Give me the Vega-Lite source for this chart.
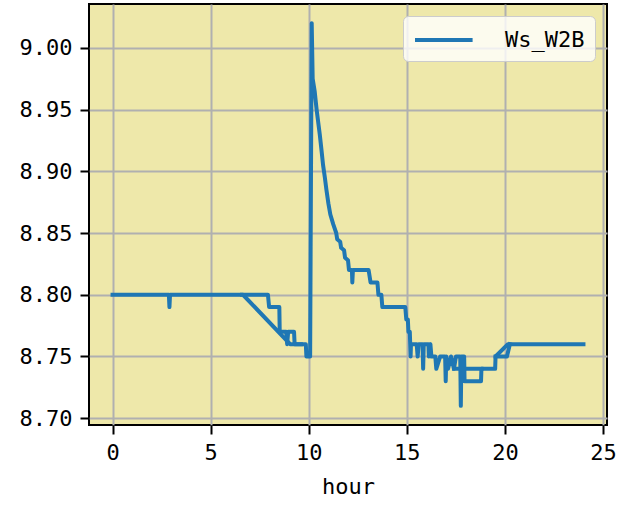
{
  "$schema": "https://vega.github.io/schema/vega-lite/v6.json",
  "width": 518,
  "height": 421,
  "autosize": {"type": "none"},
  "padding": {"left": 89, "top": 4, "right": 13, "bottom": 84},
  "background": "white",
  "config": {
    "view": {"stroke": "black", "strokeWidth": 2, "fill": "#eee8aa"},
    "font": "DejaVu Sans Mono",
    "axis": {
      "labelFont": "DejaVu Sans Mono",
      "labelFontSize": 22,
      "labelColor": "black",
      "titleFont": "DejaVu Sans Mono",
      "titleFontSize": 22,
      "titleFontWeight": "normal",
      "titleColor": "black",
      "tickColor": "black",
      "tickWidth": 2,
      "tickSize": 9,
      "labelPadding": 8,
      "domain": false,
      "grid": true,
      "gridColor": "#b0b0b0",
      "gridWidth": 2
    },
    "legend": {
      "labelFont": "DejaVu Sans Mono",
      "labelFontSize": 22,
      "labelColor": "black",
      "fillColor": "rgba(255,255,255,0.8)",
      "strokeColor": "#cccccc",
      "cornerRadius": 5,
      "padding": 10
    }
  },
  "data": {
    "values": [
      {"seg": "A", "i": 1, "h": 0, "v": 8.80, "series": "Ws_W2B"},
      {"seg": "A", "i": 2, "h": 2.87, "v": 8.80, "series": "Ws_W2B"},
      {"seg": "A", "i": 3, "h": 2.9, "v": 8.79, "series": "Ws_W2B"},
      {"seg": "A", "i": 4, "h": 2.93, "v": 8.80, "series": "Ws_W2B"},
      {"seg": "A", "i": 5, "h": 6.65, "v": 8.80, "series": "Ws_W2B"},
      {"seg": "A", "i": 6, "h": 9.05, "v": 8.76, "series": "Ws_W2B"},
      {"seg": "A", "i": 7, "h": 9.85, "v": 8.76, "series": "Ws_W2B"},
      {"seg": "A", "i": 8, "h": 9.88, "v": 8.75, "series": "Ws_W2B"},
      {"seg": "A", "i": 9, "h": 10.07, "v": 8.75, "series": "Ws_W2B"},
      {"seg": "A", "i": 10, "h": 10.15, "v": 9.02, "series": "Ws_W2B"},
      {"seg": "A", "i": 11, "h": 10.2, "v": 8.975, "series": "Ws_W2B"},
      {"seg": "A", "i": 12, "h": 10.3, "v": 8.965, "series": "Ws_W2B"},
      {"seg": "A", "i": 13, "h": 10.4, "v": 8.95, "series": "Ws_W2B"},
      {"seg": "A", "i": 14, "h": 10.48, "v": 8.94, "series": "Ws_W2B"},
      {"seg": "A", "i": 15, "h": 10.56, "v": 8.93, "series": "Ws_W2B"},
      {"seg": "A", "i": 16, "h": 10.65, "v": 8.917, "series": "Ws_W2B"},
      {"seg": "A", "i": 17, "h": 10.73, "v": 8.905, "series": "Ws_W2B"},
      {"seg": "A", "i": 18, "h": 10.82, "v": 8.895, "series": "Ws_W2B"},
      {"seg": "A", "i": 19, "h": 10.9, "v": 8.885, "series": "Ws_W2B"},
      {"seg": "A", "i": 20, "h": 11.0, "v": 8.874, "series": "Ws_W2B"},
      {"seg": "A", "i": 21, "h": 11.1, "v": 8.865, "series": "Ws_W2B"},
      {"seg": "A", "i": 22, "h": 11.25, "v": 8.857, "series": "Ws_W2B"},
      {"seg": "A", "i": 23, "h": 11.4, "v": 8.85, "series": "Ws_W2B"},
      {"seg": "A", "i": 24, "h": 11.45, "v": 8.845, "series": "Ws_W2B"},
      {"seg": "A", "i": 25, "h": 11.6, "v": 8.843, "series": "Ws_W2B"},
      {"seg": "A", "i": 26, "h": 11.65, "v": 8.838, "series": "Ws_W2B"},
      {"seg": "A", "i": 27, "h": 11.8, "v": 8.836, "series": "Ws_W2B"},
      {"seg": "A", "i": 28, "h": 11.85, "v": 8.83, "series": "Ws_W2B"},
      {"seg": "A", "i": 29, "h": 12.0, "v": 8.828, "series": "Ws_W2B"},
      {"seg": "A", "i": 30, "h": 12.05, "v": 8.82, "series": "Ws_W2B"},
      {"seg": "A", "i": 31, "h": 12.2, "v": 8.82, "series": "Ws_W2B"},
      {"seg": "A", "i": 32, "h": 12.22, "v": 8.81, "series": "Ws_W2B"},
      {"seg": "A", "i": 33, "h": 12.25, "v": 8.82, "series": "Ws_W2B"},
      {"seg": "A", "i": 34, "h": 13.05, "v": 8.82, "series": "Ws_W2B"},
      {"seg": "A", "i": 35, "h": 13.15, "v": 8.81, "series": "Ws_W2B"},
      {"seg": "A", "i": 36, "h": 13.5, "v": 8.81, "series": "Ws_W2B"},
      {"seg": "A", "i": 37, "h": 13.55, "v": 8.80, "series": "Ws_W2B"},
      {"seg": "A", "i": 38, "h": 13.7, "v": 8.80, "series": "Ws_W2B"},
      {"seg": "A", "i": 39, "h": 13.75, "v": 8.79, "series": "Ws_W2B"},
      {"seg": "A", "i": 40, "h": 14.92, "v": 8.79, "series": "Ws_W2B"},
      {"seg": "A", "i": 41, "h": 14.97, "v": 8.78, "series": "Ws_W2B"},
      {"seg": "A", "i": 42, "h": 15.05, "v": 8.78, "series": "Ws_W2B"},
      {"seg": "A", "i": 43, "h": 15.08, "v": 8.77, "series": "Ws_W2B"},
      {"seg": "A", "i": 44, "h": 15.15, "v": 8.77, "series": "Ws_W2B"},
      {"seg": "A", "i": 45, "h": 15.17, "v": 8.76, "series": "Ws_W2B"},
      {"seg": "A", "i": 46, "h": 15.19, "v": 8.75, "series": "Ws_W2B"},
      {"seg": "A", "i": 47, "h": 15.21, "v": 8.76, "series": "Ws_W2B"},
      {"seg": "A", "i": 48, "h": 15.5, "v": 8.76, "series": "Ws_W2B"},
      {"seg": "A", "i": 49, "h": 15.55, "v": 8.75, "series": "Ws_W2B"},
      {"seg": "A", "i": 50, "h": 15.6, "v": 8.76, "series": "Ws_W2B"},
      {"seg": "A", "i": 51, "h": 15.8, "v": 8.76, "series": "Ws_W2B"},
      {"seg": "A", "i": 52, "h": 15.83, "v": 8.74, "series": "Ws_W2B"},
      {"seg": "A", "i": 53, "h": 15.86, "v": 8.76, "series": "Ws_W2B"},
      {"seg": "A", "i": 54, "h": 16.1, "v": 8.76, "series": "Ws_W2B"},
      {"seg": "A", "i": 55, "h": 16.12, "v": 8.75, "series": "Ws_W2B"},
      {"seg": "A", "i": 56, "h": 16.2, "v": 8.76, "series": "Ws_W2B"},
      {"seg": "A", "i": 57, "h": 16.25, "v": 8.75, "series": "Ws_W2B"},
      {"seg": "A", "i": 58, "h": 16.45, "v": 8.75, "series": "Ws_W2B"},
      {"seg": "A", "i": 59, "h": 16.5, "v": 8.74, "series": "Ws_W2B"},
      {"seg": "A", "i": 60, "h": 16.7, "v": 8.75, "series": "Ws_W2B"},
      {"seg": "A", "i": 61, "h": 16.95, "v": 8.75, "series": "Ws_W2B"},
      {"seg": "A", "i": 62, "h": 16.98, "v": 8.73, "series": "Ws_W2B"},
      {"seg": "A", "i": 63, "h": 17.01, "v": 8.75, "series": "Ws_W2B"},
      {"seg": "A", "i": 64, "h": 17.1, "v": 8.74, "series": "Ws_W2B"},
      {"seg": "A", "i": 65, "h": 17.25, "v": 8.75, "series": "Ws_W2B"},
      {"seg": "A", "i": 66, "h": 17.4, "v": 8.74, "series": "Ws_W2B"},
      {"seg": "A", "i": 67, "h": 17.5, "v": 8.75, "series": "Ws_W2B"},
      {"seg": "A", "i": 68, "h": 17.72, "v": 8.75, "series": "Ws_W2B"},
      {"seg": "A", "i": 69, "h": 17.75, "v": 8.71, "series": "Ws_W2B"},
      {"seg": "A", "i": 70, "h": 17.78, "v": 8.75, "series": "Ws_W2B"},
      {"seg": "A", "i": 71, "h": 17.92, "v": 8.75, "series": "Ws_W2B"},
      {"seg": "A", "i": 72, "h": 17.94, "v": 8.73, "series": "Ws_W2B"},
      {"seg": "A", "i": 73, "h": 18.78, "v": 8.73, "series": "Ws_W2B"},
      {"seg": "A", "i": 74, "h": 18.8, "v": 8.74, "series": "Ws_W2B"},
      {"seg": "A", "i": 75, "h": 19.5, "v": 8.74, "series": "Ws_W2B"},
      {"seg": "A", "i": 76, "h": 19.52, "v": 8.75, "series": "Ws_W2B"},
      {"seg": "A", "i": 77, "h": 20.15, "v": 8.76, "series": "Ws_W2B"},
      {"seg": "A", "i": 78, "h": 24.0, "v": 8.76, "series": "Ws_W2B"},
      {"seg": "B", "i": 1, "h": 6.6, "v": 8.80, "series": "Ws_W2B"},
      {"seg": "B", "i": 2, "h": 7.92, "v": 8.80, "series": "Ws_W2B"},
      {"seg": "B", "i": 3, "h": 7.98, "v": 8.79, "series": "Ws_W2B"},
      {"seg": "B", "i": 4, "h": 8.5, "v": 8.79, "series": "Ws_W2B"},
      {"seg": "B", "i": 5, "h": 8.52, "v": 8.77, "series": "Ws_W2B"},
      {"seg": "B", "i": 6, "h": 8.85, "v": 8.77, "series": "Ws_W2B"},
      {"seg": "B", "i": 7, "h": 8.9, "v": 8.76, "series": "Ws_W2B"},
      {"seg": "B", "i": 8, "h": 8.95, "v": 8.77, "series": "Ws_W2B"},
      {"seg": "B", "i": 9, "h": 9.25, "v": 8.77, "series": "Ws_W2B"},
      {"seg": "B", "i": 10, "h": 9.28, "v": 8.76, "series": "Ws_W2B"},
      {"seg": "B", "i": 11, "h": 9.6, "v": 8.76, "series": "Ws_W2B"},
      {"seg": "C", "i": 1, "h": 19.52, "v": 8.75, "series": "Ws_W2B"},
      {"seg": "C", "i": 2, "h": 20.1, "v": 8.75, "series": "Ws_W2B"},
      {"seg": "C", "i": 3, "h": 20.25, "v": 8.76, "series": "Ws_W2B"},
      {"seg": "D", "i": 1, "h": 17.4, "v": 8.74, "series": "Ws_W2B"},
      {"seg": "D", "i": 2, "h": 18.8, "v": 8.74, "series": "Ws_W2B"}
    ]
  },
  "mark": {"type": "line", "strokeWidth": 4, "strokeJoin": "round", "strokeCap": "square", "clip": true},
  "encoding": {
    "x": {
      "field": "h",
      "type": "quantitative",
      "scale": {"domain": [-1.2, 25.2], "nice": false, "zero": false},
      "axis": {"title": "hour", "values": [0, 5, 10, 15, 20, 25], "titlePadding": 13}
    },
    "y": {
      "field": "v",
      "type": "quantitative",
      "scale": {"domain": [8.6945, 9.0355], "nice": false, "zero": false},
      "axis": {"title": null, "values": [8.70, 8.75, 8.80, 8.85, 8.90, 8.95, 9.00], "format": ".2f"}
    },
    "detail": {"field": "seg"},
    "order": {"field": "i"},
    "color": {
      "field": "series",
      "type": "nominal",
      "scale": {"range": ["#1f77b4"]},
      "legend": {
        "title": null,
        "orient": "top-right",
        "offset": 12,
        "symbolType": "M-1,0H3.8",
        "symbolSize": 576,
        "symbolStrokeWidth": 4,
        "symbolStrokeColor": "#1f77b4",
        "labelOffset": 64
      }
    }
  }
}
